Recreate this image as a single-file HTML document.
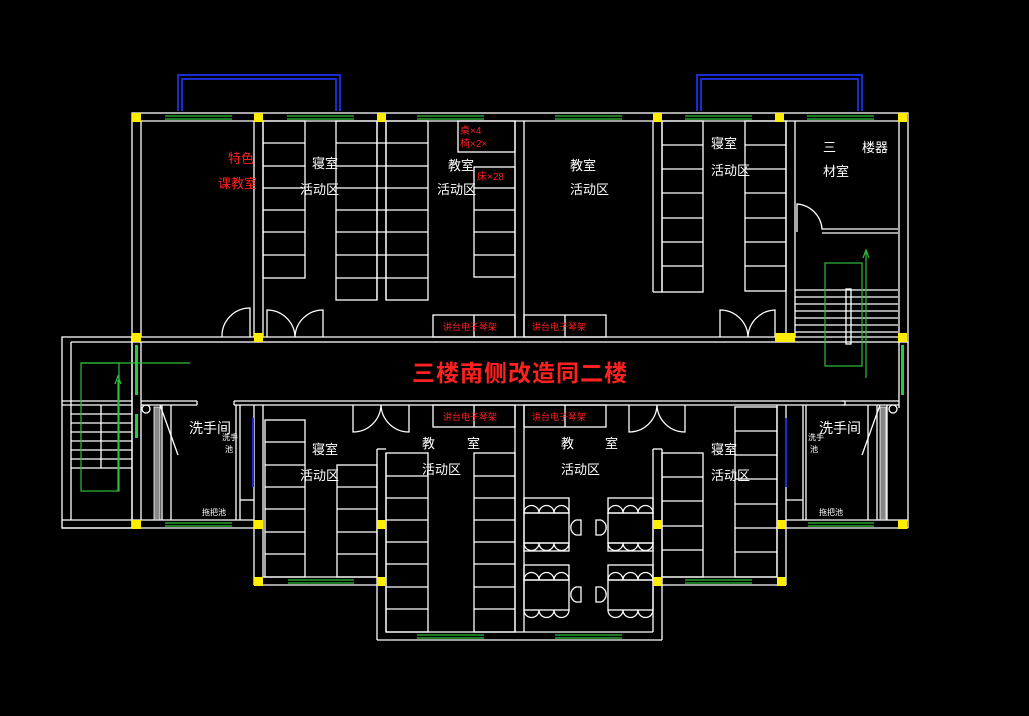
<!DOCTYPE html>
<html><head><meta charset="utf-8"><style>
html,body{margin:0;padding:0;background:#000;}
svg{display:block}
text{font-family:"Liberation Sans","Noto Sans CJK SC",sans-serif;}
</style></head><body>
<svg width="1029" height="716" viewBox="0 0 1029 716" xmlns="http://www.w3.org/2000/svg">
<rect width="1029" height="716" fill="#000"/>
<g fill="none" stroke="#fff" stroke-width="1.3">
<!-- top block outer -->
<rect x="132" y="113" width="776" height="229"/>
<line x1="141" y1="121" x2="899" y2="121"/>
<line x1="141" y1="121" x2="141" y2="337"/>
<line x1="899" y1="121" x2="899" y2="337"/>
<line x1="141" y1="337" x2="899" y2="337"/>
<!-- top vertical walls -->
<line x1="254" y1="121" x2="254" y2="337"/><line x1="263" y1="121" x2="263" y2="337"/>
<line x1="377" y1="121" x2="377" y2="300"/><line x1="386" y1="121" x2="386" y2="300"/>
<line x1="515" y1="121" x2="515" y2="337"/><line x1="524" y1="121" x2="524" y2="337"/>
<line x1="653" y1="121" x2="653" y2="292"/><line x1="662" y1="121" x2="662" y2="292"/><line x1="653" y1="292" x2="662" y2="292"/>
<line x1="786" y1="121" x2="786" y2="337"/><line x1="795" y1="121" x2="795" y2="337"/>
<!-- bunks room1 -->
<rect x="263" y="121" width="42" height="157"/>
<line x1="263" y1="143" x2="305" y2="143"/><line x1="263" y1="166" x2="305" y2="166"/><line x1="263" y1="188" x2="305" y2="188"/><line x1="263" y1="210" x2="305" y2="210"/><line x1="263" y1="232" x2="305" y2="232"/><line x1="263" y1="255" x2="305" y2="255"/>
<rect x="336" y="121" width="41" height="179"/>
<rect x="386" y="121" width="42" height="179"/>
<g>
<line x1="336" y1="143" x2="428" y2="143"/><line x1="336" y1="166" x2="428" y2="166"/><line x1="336" y1="188" x2="428" y2="188"/><line x1="336" y1="210" x2="428" y2="210"/><line x1="336" y1="232" x2="428" y2="232"/><line x1="336" y1="255" x2="428" y2="255"/><line x1="336" y1="278" x2="428" y2="278"/>
</g>
<!-- room2 -->
<rect x="474" y="167" width="41" height="110"/>
<line x1="474" y1="188" x2="515" y2="188"/><line x1="474" y1="210" x2="515" y2="210"/><line x1="474" y1="232" x2="515" y2="232"/><line x1="474" y1="255" x2="515" y2="255"/>
<rect x="458" y="121" width="57" height="31"/>
<rect x="433" y="315" width="82" height="22"/><line x1="474" y1="315" x2="474" y2="337"/>
<rect x="524" y="315" width="82" height="22"/><line x1="565" y1="315" x2="565" y2="337"/>
<!-- room4 bunks -->
<rect x="662" y="121" width="41" height="171"/>
<line x1="662" y1="145" x2="703" y2="145"/><line x1="662" y1="169" x2="703" y2="169"/><line x1="662" y1="193" x2="703" y2="193"/><line x1="662" y1="218" x2="703" y2="218"/><line x1="662" y1="242" x2="703" y2="242"/><line x1="662" y1="266" x2="703" y2="266"/>
<rect x="745" y="121" width="41" height="170"/>
<line x1="745" y1="145" x2="786" y2="145"/><line x1="745" y1="169" x2="786" y2="169"/><line x1="745" y1="193" x2="786" y2="193"/><line x1="745" y1="218" x2="786" y2="218"/><line x1="745" y1="242" x2="786" y2="242"/><line x1="745" y1="266" x2="786" y2="266"/>
<!-- doors top -->
<path d="M222 337 A28 28 0 0 1 250 308 L250 337"/>
<path d="M267 337 L267 310 A28 28 0 0 1 295 337 A28 28 0 0 1 323 310 L323 337"/>
<path d="M720 337 L720 310 A28 28 0 0 1 748 337 A28 28 0 0 1 775 310 L775 337"/>
<path d="M797 232 L797 204 A27 27 0 0 1 822 229 L898 229 M822 233 L898 233"/>
<!-- stairs right -->
<g><line x1="795" y1="290" x2="898" y2="290"/><line x1="795" y1="297" x2="898" y2="297"/><line x1="795" y1="304" x2="898" y2="304"/><line x1="795" y1="311" x2="898" y2="311"/><line x1="795" y1="318" x2="898" y2="318"/><line x1="795" y1="325" x2="898" y2="325"/><line x1="795" y1="332" x2="898" y2="332"/></g>
<rect x="846" y="289" width="5" height="55"/>
<!-- corridor / right stair side -->
<line x1="899" y1="342" x2="899" y2="408"/><line x1="908" y1="342" x2="908" y2="528"/>
<!-- left stairwell -->
<rect x="62" y="337" width="70" height="191"/>
<line x1="71" y1="342" x2="71" y2="520"/><line x1="71" y1="342" x2="132" y2="342"/>
<line x1="62" y1="401" x2="132" y2="401"/><line x1="62" y1="405" x2="132" y2="405"/>
<line x1="132" y1="337" x2="132" y2="528"/><line x1="141" y1="342" x2="141" y2="520"/>
<g><line x1="71" y1="414" x2="132" y2="414"/><line x1="71" y1="423" x2="132" y2="423"/><line x1="71" y1="432" x2="132" y2="432"/><line x1="71" y1="441" x2="132" y2="441"/><line x1="71" y1="450" x2="132" y2="450"/><line x1="71" y1="459" x2="132" y2="459"/><line x1="71" y1="468" x2="132" y2="468"/></g>
<line x1="101" y1="405" x2="101" y2="468"/>
<line x1="62" y1="520" x2="254" y2="520"/><line x1="62" y1="528" x2="254" y2="528"/>
<!-- bottom corridor wall -->
<line x1="141" y1="401" x2="197" y2="401"/><line x1="141" y1="405" x2="197" y2="405"/><line x1="197" y1="401" x2="197" y2="405"/>
<line x1="234" y1="401" x2="845" y2="401"/><line x1="234" y1="405" x2="845" y2="405"/><line x1="234" y1="401" x2="234" y2="405"/><line x1="845" y1="401" x2="845" y2="405"/>
<line x1="842" y1="401" x2="899" y2="401"/><line x1="842" y1="405" x2="899" y2="405"/>
<!-- left washroom -->
<line x1="162" y1="405" x2="162" y2="520"/><line x1="171" y1="405" x2="171" y2="520"/>
<line x1="236" y1="405" x2="236" y2="520"/>
<line x1="240" y1="405" x2="240" y2="520"/>
<line x1="240" y1="500" x2="254" y2="500"/>
<line x1="160" y1="405" x2="178" y2="455"/>
<!-- bottom rooms -->
<line x1="254" y1="405" x2="254" y2="585"/><line x1="263" y1="405" x2="263" y2="577"/>
<line x1="254" y1="585" x2="386" y2="585"/><line x1="263" y1="577" x2="377" y2="577"/>
<line x1="377" y1="449" x2="377" y2="640"/><line x1="386" y1="453" x2="386" y2="632"/><line x1="377" y1="449" x2="386" y2="449"/>
<line x1="377" y1="640" x2="662" y2="640"/><line x1="386" y1="632" x2="653" y2="632"/>
<line x1="515" y1="405" x2="515" y2="632"/><line x1="524" y1="405" x2="524" y2="632"/>
<line x1="653" y1="449" x2="653" y2="632"/><line x1="662" y1="449" x2="662" y2="640"/><line x1="653" y1="449" x2="662" y2="449"/>
<line x1="662" y1="577" x2="777" y2="577"/><line x1="662" y1="585" x2="786" y2="585"/>
<line x1="777" y1="405" x2="777" y2="577"/><line x1="786" y1="405" x2="786" y2="585"/>
<!-- bottom dorm left bunks -->
<rect x="265" y="420" width="40" height="157"/>
<line x1="265" y1="442" x2="305" y2="442"/><line x1="265" y1="465" x2="305" y2="465"/><line x1="265" y1="487" x2="305" y2="487"/><line x1="265" y1="509" x2="305" y2="509"/><line x1="265" y1="532" x2="305" y2="532"/><line x1="265" y1="554" x2="305" y2="554"/>
<rect x="337" y="465" width="40" height="112"/>
<line x1="337" y1="487" x2="377" y2="487"/><line x1="337" y1="509" x2="377" y2="509"/><line x1="337" y1="532" x2="377" y2="532"/><line x1="337" y1="554" x2="377" y2="554"/>
<!-- bottom classroom left bunks -->
<rect x="386" y="453" width="42" height="179"/>
<rect x="474" y="453" width="41" height="179"/>
<g><line x1="386" y1="476" x2="428" y2="476"/><line x1="386" y1="498" x2="428" y2="498"/><line x1="386" y1="520" x2="428" y2="520"/><line x1="386" y1="542" x2="428" y2="542"/><line x1="386" y1="564" x2="428" y2="564"/><line x1="386" y1="587" x2="428" y2="587"/><line x1="386" y1="609" x2="428" y2="609"/>
<line x1="474" y1="476" x2="515" y2="476"/><line x1="474" y1="498" x2="515" y2="498"/><line x1="474" y1="520" x2="515" y2="520"/><line x1="474" y1="542" x2="515" y2="542"/><line x1="474" y1="564" x2="515" y2="564"/><line x1="474" y1="587" x2="515" y2="587"/><line x1="474" y1="609" x2="515" y2="609"/></g>
<rect x="433" y="405" width="82" height="22"/><line x1="474" y1="405" x2="474" y2="427"/>
<rect x="524" y="405" width="82" height="22"/><line x1="565" y1="405" x2="565" y2="427"/>
<!-- bottom doors -->
<path d="M353 405 L353 432 A28 28 0 0 0 381 405 A28 28 0 0 0 409 432 L409 405"/>
<path d="M629 405 L629 432 A28 28 0 0 0 657 405 A28 28 0 0 0 685 432 L685 405"/>
<!-- tables right classroom -->
<rect x="524" y="513" width="45" height="30"/><rect x="608" y="513" width="45" height="30"/>
<rect x="524" y="580" width="45" height="30"/><rect x="608" y="580" width="45" height="30"/>
<rect x="524" y="498" width="45" height="15"/><rect x="608" y="498" width="45" height="15"/>
<rect x="524" y="565" width="45" height="15"/><rect x="608" y="565" width="45" height="15"/>
<path d="M524 513 a7.5 7.5 0 0 1 15 0 a7.5 7.5 0 0 1 15 0 a7.5 7.5 0 0 1 15 0 M608 513 a7.5 7.5 0 0 1 15 0 a7.5 7.5 0 0 1 15 0 a7.5 7.5 0 0 1 15 0"/>
<path d="M524 543 a7.5 7.5 0 0 0 15 0 a7.5 7.5 0 0 0 15 0 a7.5 7.5 0 0 0 15 0 M608 543 a7.5 7.5 0 0 0 15 0 a7.5 7.5 0 0 0 15 0 a7.5 7.5 0 0 0 15 0"/>
<path d="M524 580 a7.5 7.5 0 0 1 15 0 a7.5 7.5 0 0 1 15 0 a7.5 7.5 0 0 1 15 0 M608 580 a7.5 7.5 0 0 1 15 0 a7.5 7.5 0 0 1 15 0 a7.5 7.5 0 0 1 15 0"/>
<path d="M524 610 a7.5 7.5 0 0 0 15 0 a7.5 7.5 0 0 0 15 0 a7.5 7.5 0 0 0 15 0 M608 610 a7.5 7.5 0 0 0 15 0 a7.5 7.5 0 0 0 15 0 a7.5 7.5 0 0 0 15 0"/>
<rect x="524" y="543" width="45" height="8"/><rect x="608" y="543" width="45" height="8"/>
<path d="M581 520 h-5 a8 8 0 0 0 0 15 h5 z M596 520 h5 a8 8 0 0 1 0 15 h-5 z M581 587 h-5 a8 8 0 0 0 0 15 h5 z M596 587 h5 a8 8 0 0 1 0 15 h-5 z"/>
<!-- bottom dorm right bunks -->
<rect x="662" y="453" width="41" height="124"/>
<line x1="662" y1="477" x2="703" y2="477"/><line x1="662" y1="501" x2="703" y2="501"/><line x1="662" y1="526" x2="703" y2="526"/><line x1="662" y1="550" x2="703" y2="550"/>
<rect x="735" y="407" width="42" height="170"/>
<line x1="735" y1="431" x2="777" y2="431"/><line x1="735" y1="455" x2="777" y2="455"/><line x1="735" y1="479" x2="777" y2="479"/><line x1="735" y1="504" x2="777" y2="504"/><line x1="735" y1="528" x2="777" y2="528"/><line x1="735" y1="552" x2="777" y2="552"/>
<!-- right washroom -->
<line x1="786" y1="520" x2="908" y2="520"/><line x1="786" y1="528" x2="908" y2="528"/>
<line x1="803" y1="405" x2="803" y2="520"/><line x1="806" y1="405" x2="806" y2="520"/>
<line x1="786" y1="500" x2="803" y2="500"/>
<line x1="868" y1="405" x2="868" y2="520"/><line x1="877" y1="405" x2="877" y2="520"/>
<line x1="887" y1="405" x2="887" y2="520"/>
<line x1="880" y1="405" x2="862" y2="455"/>
<circle cx="146" cy="409" r="4"/><circle cx="893" cy="409" r="4"/>
</g>
<!-- hatched walls -->
<rect x="154" y="407" width="6" height="113" fill="#888" stroke="#fff" stroke-width="0.8"/>
<rect x="880" y="407" width="6" height="113" fill="#888" stroke="#fff" stroke-width="0.8"/>
<!-- blue fixtures -->
<g fill="none" stroke="#1a2bd0" stroke-width="2">
<path d="M178 111 L178 75 L340 75 L340 111 M182 111 L182 79 L336 79 L336 111"/>
<path d="M697 111 L697 75 L862 75 L862 111 M701 111 L701 79 L858 79 L858 111"/>
<line x1="253" y1="418" x2="253" y2="487"/><line x1="786" y1="418" x2="786" y2="487"/>
</g>
<!-- windows green -->
<g stroke="#2fbf3a" stroke-width="1.2">
<path d="M165 116 H232 M165 119 H232 M287 116 H354 M287 119 H354 M417 116 H484 M417 119 H484 M555 116 H622 M555 119 H622 M685 116 H752 M685 119 H752 M807 116 H874 M807 119 H874"/>
<path d="M165 523 H232 M165 526 H232 M288 580 H354 M288 583 H354 M417 635 H484 M417 638 H484 M555 635 H622 M555 638 H622 M685 580 H752 M685 583 H752 M808 523 H874 M808 526 H874"/>
</g>
<g fill="none" stroke="#2fbf3a" stroke-width="1.2">
<rect x="81" y="363" width="38" height="128"/><line x1="81" y1="363" x2="190" y2="363"/>
<line x1="118" y1="380" x2="118" y2="491"/><path d="M115 384 L118 376 L121 384"/>
<rect x="825" y="263" width="37" height="103"/>
<line x1="866" y1="252" x2="866" y2="378"/><path d="M863 258 L866 250 L869 258"/>
</g>
<g fill="#22d13a"><rect x="135" y="345" width="3" height="50"/><rect x="135" y="414" width="3" height="24"/><rect x="901" y="345" width="3" height="50"/></g>
<!-- yellow columns -->
<g fill="#ffee00">
<rect x="132" y="113" width="9" height="9"/><rect x="254" y="113" width="9" height="9"/><rect x="377" y="113" width="9" height="9"/><rect x="653" y="113" width="9" height="9"/><rect x="775" y="113" width="9" height="9"/><rect x="898" y="113" width="9" height="9"/>
<rect x="132" y="333" width="9" height="9"/><rect x="254" y="333" width="9" height="9"/><rect x="775" y="333" width="20" height="9"/><rect x="898" y="333" width="9" height="9"/>
<rect x="132" y="520" width="9" height="9"/><rect x="254" y="520" width="9" height="9"/><rect x="377" y="520" width="9" height="9"/><rect x="653" y="520" width="9" height="9"/><rect x="777" y="520" width="9" height="9"/><rect x="898" y="520" width="9" height="9"/>
<rect x="254" y="577" width="9" height="9"/><rect x="377" y="577" width="9" height="9"/><rect x="653" y="577" width="9" height="9"/><rect x="777" y="577" width="9" height="9"/>
</g>
<!-- labels -->
<g fill="#fff" font-size="13">
<text x="312" y="168">寝室</text><text x="300" y="194">活动区</text>
<text x="448" y="170">教室</text><text x="437" y="194">活动区</text>
<text x="570" y="170">教室</text><text x="570" y="194">活动区</text>
<text x="711" y="148">寝室</text><text x="711" y="175">活动区</text>
<text x="823" y="152">三</text><text x="862" y="152">楼器</text><text x="823" y="176">材室</text>
<text x="312" y="454">寝室</text><text x="300" y="480">活动区</text>
<text x="422" y="448">教</text><text x="467" y="448">室</text><text x="422" y="474">活动区</text>
<text x="561" y="448">教</text><text x="605" y="448">室</text><text x="561" y="474">活动区</text>
<text x="711" y="454">寝室</text><text x="711" y="480">活动区</text>
<text x="189" y="433" font-size="14">洗手间</text><text x="819" y="433" font-size="14">洗手间</text>
<text x="222" y="440" font-size="8">洗手</text><text x="225" y="452" font-size="8">池</text>
<text x="808" y="440" font-size="8">洗手</text><text x="810" y="452" font-size="8">池</text>
<text x="202" y="515" font-size="8">拖把池</text><text x="819" y="515" font-size="8">拖把池</text>
</g>
<g fill="#ff2020">
<text x="228" y="163" font-size="13">特色</text><text x="218" y="188" font-size="13">课教室</text>
<text x="460" y="134" font-size="10">桌×4</text><text x="460" y="147" font-size="10">椅×2×</text><text x="477" y="180" font-size="10">床×28</text>
<g font-size="9"><text x="443" y="330">讲台电子琴架</text><text x="532" y="330">讲台电子琴架</text><text x="443" y="420">讲台电子琴架</text><text x="532" y="420">讲台电子琴架</text></g>
<text x="520" y="381" font-size="23" font-weight="bold" text-anchor="middle" letter-spacing="1">三楼南侧改造同二楼</text>
</g>
</svg>
</body></html>
